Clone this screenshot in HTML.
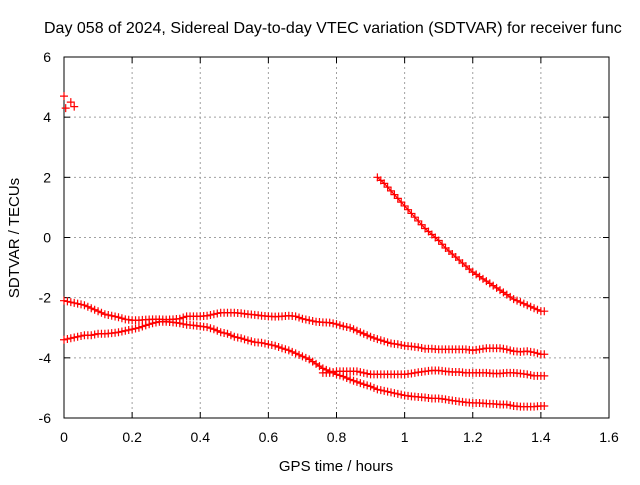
<!DOCTYPE html>
<html><head><meta charset="utf-8"><style>
body{margin:0;background:#fff;width:640px;height:480px;overflow:hidden}
svg{font-family:"Liberation Sans",sans-serif}
</style></head><body>
<svg id="chart" width="640" height="480" xmlns="http://www.w3.org/2000/svg">
<text x="44" y="33" font-size="16">Day 058 of 2024, Sidereal Day-to-day VTEC variation (SDTVAR) for receiver func</text>
<g id="grid"></g>
<g id="ticks"></g>
<rect x="64" y="57" width="545" height="361" fill="none" stroke="#000" stroke-width="1"/>
<g id="marks"></g>
<text x="336" y="471" font-size="15" text-anchor="middle">GPS time / hours</text>
<text transform="translate(19,238) rotate(-90)" font-size="15" text-anchor="middle">SDTVAR / TECUs</text>
</svg>
<script>
const xTicks=[0,0.2,0.4,0.6,0.8,1,1.2,1.4,1.6];
const yTicks=[-6,-4,-2,0,2,4,6];
const tA0=0, stepA=0.02;
const seriesA=[-2.1,-2.15,-2.2,-2.25,-2.35,-2.45,-2.55,-2.6,-2.65,-2.72,-2.75,-2.75,-2.73,-2.72,-2.72,-2.73,-2.72,-2.7,-2.62,-2.62,-2.62,-2.6,-2.55,-2.5,-2.5,-2.5,-2.52,-2.55,-2.57,-2.6,-2.62,-2.63,-2.62,-2.6,-2.62,-2.7,-2.75,-2.8,-2.82,-2.83,-2.88,-2.95,-3.0,-3.1,-3.2,-3.3,-3.38,-3.45,-3.52,-3.55,-3.6,-3.62,-3.65,-3.7,-3.7,-3.72,-3.72,-3.72,-3.72,-3.72,-3.75,-3.72,-3.68,-3.68,-3.68,-3.72,-3.78,-3.8,-3.78,-3.82,-3.88];
const seriesB=[-3.4,-3.35,-3.3,-3.25,-3.25,-3.2,-3.2,-3.18,-3.15,-3.1,-3.05,-3.0,-2.92,-2.85,-2.8,-2.8,-2.82,-2.85,-2.9,-2.92,-2.95,-2.98,-3.05,-3.15,-3.2,-3.3,-3.35,-3.42,-3.48,-3.5,-3.55,-3.6,-3.68,-3.75,-3.85,-3.95,-4.05,-4.2,-4.35,-4.45,-4.55,-4.62,-4.72,-4.8,-4.88,-4.95,-5.05,-5.1,-5.15,-5.2,-5.25,-5.28,-5.3,-5.32,-5.35,-5.35,-5.38,-5.42,-5.45,-5.48,-5.5,-5.5,-5.52,-5.53,-5.55,-5.55,-5.6,-5.62,-5.62,-5.62,-5.6];
const tC0=0.76;
const seriesC=[-4.5,-4.5,-4.45,-4.45,-4.45,-4.45,-4.5,-4.55,-4.55,-4.55,-4.55,-4.55,-4.55,-4.52,-4.48,-4.45,-4.42,-4.42,-4.45,-4.47,-4.47,-4.5,-4.5,-4.5,-4.5,-4.52,-4.52,-4.5,-4.5,-4.52,-4.55,-4.6,-4.6];
const tD0=0.92;
const seriesD=[2.0,1.8,1.55,1.3,1.05,0.8,0.55,0.3,0.1,-0.1,-0.35,-0.55,-0.75,-0.95,-1.15,-1.3,-1.45,-1.6,-1.75,-1.9,-2.05,-2.15,-2.25,-2.35,-2.45];
const seriesETimes=[0,0.005,0.02,0.03];
const seriesEValues=[4.7,4.3,4.5,4.35];

const NS="http://www.w3.org/2000/svg";
const X=v=>64+v/1.6*545;
const Y=v=>418-(v+6)/12*361;
function mk(tag,attrs,parent){const e=document.createElementNS(NS,tag);for(const k in attrs)e.setAttribute(k,attrs[k]);parent.appendChild(e);return e;}
const grid=document.getElementById('grid'),ticks=document.getElementById('ticks'),marks=document.getElementById('marks');
xTicks.forEach(t=>{
  const x=X(t);
  if(t>0&&t<1.6){const g=mk('line',{x1:x,x2:x,y1:57,y2:418,stroke:'#a0a0a0','stroke-dasharray':'2,3'},grid);
  
  }
  mk('line',{x1:x,x2:x,y1:418,y2:412,stroke:'#000'},ticks);
  mk('line',{x1:x,x2:x,y1:57,y2:63,stroke:'#000'},ticks);
  const l=mk('text',{x:x,y:442,'font-size':14,'text-anchor':'middle'},ticks);
  l.textContent=String(t);
  
  
});
yTicks.forEach(t=>{
  const y=Y(t);
  if(t>-6&&t<6){const g=mk('line',{x1:64,x2:609,y1:y,y2:y,stroke:'#a0a0a0','stroke-dasharray':'2,3'},grid);
  
  }
  mk('line',{x1:64,x2:70,y1:y,y2:y,stroke:'#000'},ticks);
  mk('line',{x1:609,x2:603,y1:y,y2:y,stroke:'#000'},ticks);
  const l=mk('text',{x:51,y:y+5,'font-size':14,'text-anchor':'end'},ticks);
  l.textContent=String(t);
  
  
});
function plus(t,v,name){
  const x=X(t),y=Y(v);
  const p=mk('path',{d:`M${x-4},${y}h8M${x},${y-4}v8`,stroke:'#f00','stroke-width':1.2,fill:'none'},marks);
  
  
}
function series(t0,vals,name){
  const pts=vals.map((v,i)=>X(t0+i*stepA).toFixed(1)+','+Y(v).toFixed(1)).join(' ');
  const pl=mk('polyline',{points:pts,stroke:'#f00','stroke-width':1.3,fill:'none'},marks);
  
  
  vals.forEach((v,i)=>{plus(t0+i*stepA,v,name+'-point');plus(t0+(i+0.5)*stepA,i+1<vals.length?(v+vals[i+1])/2:v,name+'-point');});
}
series(tA0,seriesA,'series-a');
series(tA0,seriesB,'series-b');
series(tC0,seriesC,'series-c');
series(tD0,seriesD,'series-d');
seriesETimes.forEach((t,i)=>plus(t,seriesEValues[i],'series-e-point'));
</script>
</body></html>
